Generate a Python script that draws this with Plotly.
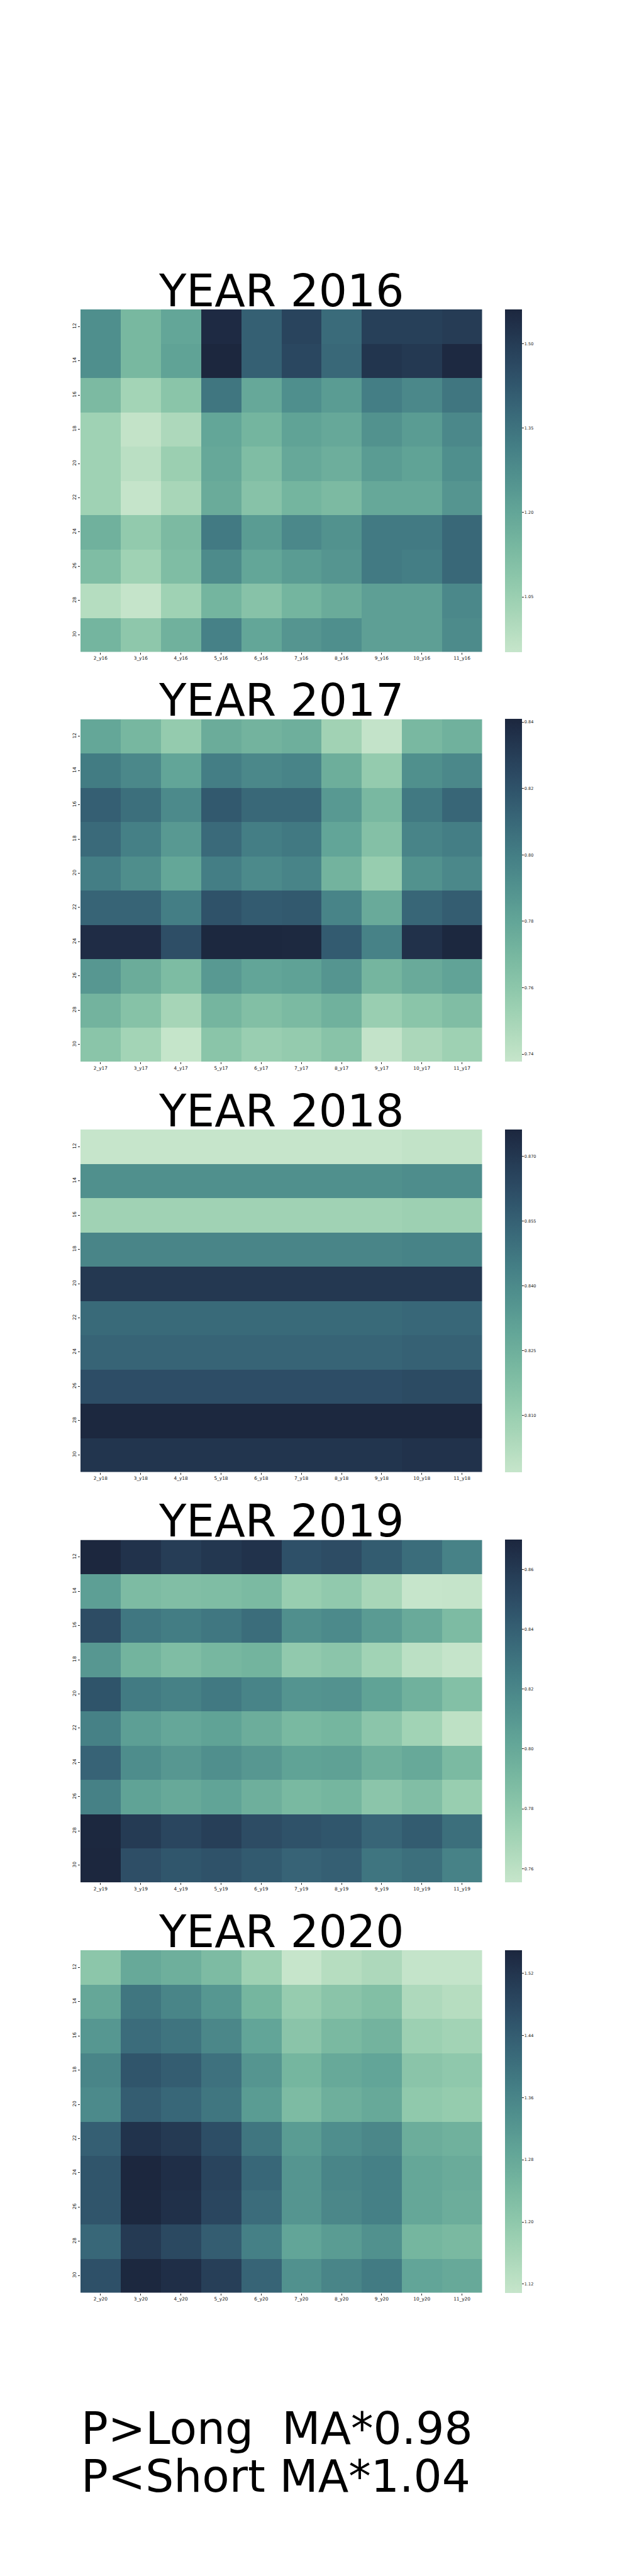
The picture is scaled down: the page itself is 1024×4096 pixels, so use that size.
import numpy as np
import plotly.graph_objects as go

# ---------------- data ----------------
years = ["2016", "2017", "2018", "2019", "2020"]
row_labels = ["12", "14", "16", "18", "20", "22", "24", "26", "28", "30"]
month_labels = ["2", "3", "4", "5", "6", "7", "8", "9", "10", "11"]

vals_2016 = [
    [1.27, 1.14, 1.20, 1.55, 1.40, 1.48, 1.37, 1.49, 1.49, 1.50],
    [1.27, 1.14, 1.21, 1.56, 1.40, 1.47, 1.38, 1.52, 1.51, 1.555],
    [1.13, 1.03, 1.09, 1.34, 1.19, 1.27, 1.23, 1.32, 1.29, 1.34],
    [1.04, 0.96, 1.01, 1.20, 1.15, 1.21, 1.19, 1.26, 1.23, 1.29],
    [1.04, 0.98, 1.05, 1.19, 1.12, 1.19, 1.17, 1.23, 1.21, 1.27],
    [1.04, 0.955, 1.02, 1.18, 1.10, 1.15, 1.13, 1.19, 1.19, 1.25],
    [1.16, 1.07, 1.13, 1.33, 1.23, 1.29, 1.26, 1.33, 1.33, 1.38],
    [1.12, 1.04, 1.12, 1.28, 1.20, 1.23, 1.25, 1.33, 1.32, 1.38],
    [0.99, 0.955, 1.04, 1.15, 1.10, 1.15, 1.18, 1.22, 1.22, 1.29],
    [1.15, 1.08, 1.16, 1.31, 1.20, 1.25, 1.27, 1.22, 1.22, 1.28],
]
vals_2017 = [
    [0.779, 0.770, 0.757, 0.776, 0.772, 0.774, 0.752, 0.739, 0.769, 0.773],
    [0.801, 0.795, 0.780, 0.800, 0.795, 0.797, 0.775, 0.757, 0.791, 0.795],
    [0.814, 0.807, 0.794, 0.817, 0.810, 0.810, 0.786, 0.769, 0.802, 0.811],
    [0.809, 0.799, 0.786, 0.809, 0.800, 0.802, 0.780, 0.764, 0.797, 0.800],
    [0.800, 0.792, 0.779, 0.800, 0.794, 0.797, 0.772, 0.756, 0.790, 0.795],
    [0.812, 0.812, 0.800, 0.820, 0.816, 0.817, 0.797, 0.777, 0.811, 0.815],
    [0.838, 0.838, 0.822, 0.8405, 0.8405, 0.840, 0.816, 0.798, 0.836, 0.8405],
    [0.787, 0.776, 0.767, 0.786, 0.780, 0.782, 0.788, 0.771, 0.777, 0.781],
    [0.772, 0.763, 0.750, 0.771, 0.765, 0.768, 0.773, 0.755, 0.761, 0.766],
    [0.761, 0.751, 0.738, 0.761, 0.755, 0.757, 0.762, 0.739, 0.748, 0.753],
]
vals_2018 = [
    [0.797, 0.797, 0.797, 0.797, 0.797, 0.797, 0.797, 0.797, 0.798, 0.798],
    [0.838, 0.838, 0.838, 0.838, 0.838, 0.838, 0.838, 0.838, 0.839, 0.839],
    [0.808, 0.808, 0.808, 0.808, 0.808, 0.808, 0.808, 0.808, 0.809, 0.809],
    [0.842, 0.842, 0.842, 0.842, 0.842, 0.842, 0.842, 0.842, 0.843, 0.843],
    [0.870, 0.870, 0.870, 0.870, 0.870, 0.870, 0.870, 0.870, 0.870, 0.870],
    [0.852, 0.852, 0.852, 0.852, 0.852, 0.852, 0.852, 0.852, 0.853, 0.853],
    [0.854, 0.854, 0.854, 0.854, 0.854, 0.854, 0.854, 0.854, 0.855, 0.855],
    [0.862, 0.862, 0.862, 0.862, 0.862, 0.862, 0.862, 0.862, 0.863, 0.863],
    [0.876, 0.876, 0.876, 0.876, 0.876, 0.876, 0.876, 0.876, 0.876, 0.876],
    [0.871, 0.871, 0.871, 0.871, 0.871, 0.871, 0.871, 0.871, 0.872, 0.872],
]
vals_2019 = [
    [0.8699, 0.864, 0.858, 0.861, 0.864, 0.848, 0.850, 0.842, 0.833, 0.822],
    [0.806, 0.788, 0.786, 0.787, 0.789, 0.775, 0.778, 0.768, 0.7554, 0.756],
    [0.850, 0.828, 0.825, 0.828, 0.833, 0.815, 0.818, 0.808, 0.799, 0.788],
    [0.810, 0.793, 0.787, 0.791, 0.793, 0.778, 0.781, 0.771, 0.760, 0.756],
    [0.846, 0.826, 0.823, 0.827, 0.821, 0.812, 0.813, 0.804, 0.795, 0.785],
    [0.823, 0.806, 0.801, 0.804, 0.797, 0.790, 0.792, 0.781, 0.771, 0.759],
    [0.838, 0.816, 0.810, 0.815, 0.810, 0.804, 0.805, 0.796, 0.800, 0.789],
    [0.823, 0.804, 0.800, 0.803, 0.796, 0.790, 0.792, 0.781, 0.786, 0.775],
    [0.8695, 0.859, 0.853, 0.857, 0.850, 0.847, 0.845, 0.837, 0.842, 0.832],
    [0.8698, 0.849, 0.845, 0.847, 0.843, 0.838, 0.840, 0.829, 0.832, 0.822],
]
vals_2020 = [
    [1.205, 1.28, 1.265, 1.235, 1.175, 1.109, 1.135, 1.15, 1.112, 1.112],
    [1.285, 1.39, 1.36, 1.32, 1.25, 1.188, 1.21, 1.225, 1.148, 1.135],
    [1.32, 1.41, 1.395, 1.355, 1.29, 1.21, 1.24, 1.255, 1.177, 1.168],
    [1.36, 1.455, 1.44, 1.40, 1.325, 1.25, 1.28, 1.29, 1.21, 1.20],
    [1.35, 1.44, 1.42, 1.39, 1.31, 1.235, 1.265, 1.28, 1.198, 1.19],
    [1.435, 1.525, 1.51, 1.47, 1.39, 1.31, 1.34, 1.355, 1.27, 1.26],
    [1.455, 1.55, 1.535, 1.49, 1.42, 1.325, 1.36, 1.37, 1.285, 1.275],
    [1.455, 1.548, 1.53, 1.485, 1.41, 1.325, 1.355, 1.37, 1.285, 1.27],
    [1.42, 1.51, 1.48, 1.44, 1.37, 1.29, 1.31, 1.335, 1.25, 1.24],
    [1.465, 1.548, 1.535, 1.50, 1.425, 1.335, 1.36, 1.38, 1.29, 1.28],
]
all_vals = [vals_2016, vals_2017, vals_2018, vals_2019, vals_2020]

cbar_min = [0.952, 0.7377, 0.7969, 0.7554, 1.1087]
cbar_max = [1.561, 0.8409, 0.8763, 0.8699, 1.550]

cbar_ticks_2016 = [1.05, 1.20, 1.35, 1.50]
cbar_ticks_2017 = [0.74, 0.76, 0.78, 0.80, 0.82, 0.84]
cbar_ticks_2018 = [0.810, 0.825, 0.840, 0.855, 0.870]
cbar_ticks_2019 = [0.76, 0.78, 0.80, 0.82, 0.84, 0.86]
cbar_ticks_2020 = [1.12, 1.20, 1.28, 1.36, 1.44, 1.52]
cbar_ticks = [cbar_ticks_2016, cbar_ticks_2017, cbar_ticks_2018, cbar_ticks_2019, cbar_ticks_2020]
cbar_fmt = ["{:.2f}", "{:.2f}", "{:.3f}", "{:.2f}", "{:.2f}"]

note_lines = ["P&gt;Long\u00a0 MA*0.98", "P&lt;Short MA*1.04"]

# ---------------- colormap (seaborn-style cubehelix) ----------------
def cubehelix_scale(start=0.0, rot=-0.4, gamma=1.0, hue=0.8, light=0.85, dark=0.15, n=33):
    out = []
    for i in range(n):
        f = i / (n - 1)
        x = light + (dark - light) * f
        xg = x ** gamma
        a = hue * xg * (1 - xg) / 2
        phi = 2 * np.pi * (start / 3 + rot * x)
        r = xg + a * (-0.14861 * np.cos(phi) + 1.78277 * np.sin(phi))
        g = xg + a * (-0.29227 * np.cos(phi) - 0.90649 * np.sin(phi))
        b = xg + a * (1.97294 * np.cos(phi))
        rgb = [int(round(255 * min(max(c, 0), 1))) for c in (r, g, b)]
        out.append([f, "rgb({},{},{})".format(*rgb)])
    return out

cscale = cubehelix_scale()

# ---------------- layout geometry (pixels in 1024x4096) ----------------
W, H = 1024, 4096
FONT = "DejaVu Sans"
x_left, x_right = 128.0, 766.5
tops = [492.0, 1143.5, 1796.0, 2448.5, 3101.0]
hm_h = 544.5
cb_left, cb_w = 802.8, 27

fig = go.Figure()
annotations = []
layout = dict(
    width=W, height=H, margin=dict(l=0, r=0, t=0, b=0, autoexpand=False),
    paper_bgcolor="white", plot_bgcolor="white", showlegend=False,
    font=dict(family=FONT, color="black"),
)

for i, yr in enumerate(years):
    suffix = "" if i == 0 else str(i + 1)
    yy = yr[-2:]
    cols = [f"{m}_y{yy}" for m in month_labels]
    top = tops[i]
    y0 = 1 - (top + hm_h) / H
    y1 = 1 - top / H
    fig.add_trace(go.Heatmap(
        z=all_vals[i], x=cols, y=row_labels,
        colorscale=cscale, zmin=cbar_min[i], zmax=cbar_max[i],
        xaxis="x" + suffix, yaxis="y" + suffix,
        colorbar=dict(
            x=cb_left / W, xanchor="left", y=(y0 + y1) / 2, yanchor="middle",
            len=hm_h / H, lenmode="fraction", thickness=cb_w, thicknessmode="pixels",
            outlinewidth=0, xpad=0, ypad=0,
            ticks="outside", ticklen=3, tickwidth=1, tickcolor="#222",
            tickvals=cbar_ticks[i], ticktext=[cbar_fmt[i].format(v) for v in cbar_ticks[i]],
            tickfont=dict(family=FONT, size=6.5, color="#222"),
        ),
        hoverinfo="skip",
    ))
    layout["xaxis" + suffix] = dict(
        domain=[x_left / W, x_right / W], anchor="y" + suffix, automargin=False,
        showgrid=False, zeroline=False, showline=False,
        ticks="outside", ticklen=3, tickwidth=1, tickcolor="#222",
        tickangle=0, tickfont=dict(family=FONT, size=7.4, color="#111"),
        fixedrange=True,
    )
    layout["yaxis" + suffix] = dict(
        domain=[y0, y1], anchor="x" + suffix, autorange="reversed", automargin=False,
        showgrid=False, zeroline=False, showline=False,
        ticks="outside", ticklen=3, tickwidth=1, tickcolor="#222",
        tickangle=-90, tickfont=dict(family=FONT, size=7.4, color="#111"),
        fixedrange=True,
    )
    annotations.append(dict(
        text="YEAR " + yr, xref="paper", yref="paper",
        x=(x_left + x_right) / 2 / W, xanchor="center",
        y=1 - (top - 4 + 0.236 * 71) / H, yanchor="bottom",
        showarrow=False, borderpad=0,
        font=dict(family=FONT, size=71, color="black"),
    ))

baselines = [3887.0, 3963.0]
for line, bl in zip(note_lines, baselines):
    annotations.append(dict(
        text=line, xref="paper", yref="paper",
        x=x_left / W, xanchor="left",
        y=1 - (bl + 0.236 * 71) / H, yanchor="bottom",
        showarrow=False, borderpad=0, align="left",
        font=dict(family=FONT, size=71, color="black"),
    ))

layout["annotations"] = annotations
fig.update_layout(**layout)
fig.write_html(
    "out.html",
    config={"displayModeBar": False},
    post_script="document.body.style.margin='0';document.body.style.padding='0';document.body.style.overflow='hidden';",
)
